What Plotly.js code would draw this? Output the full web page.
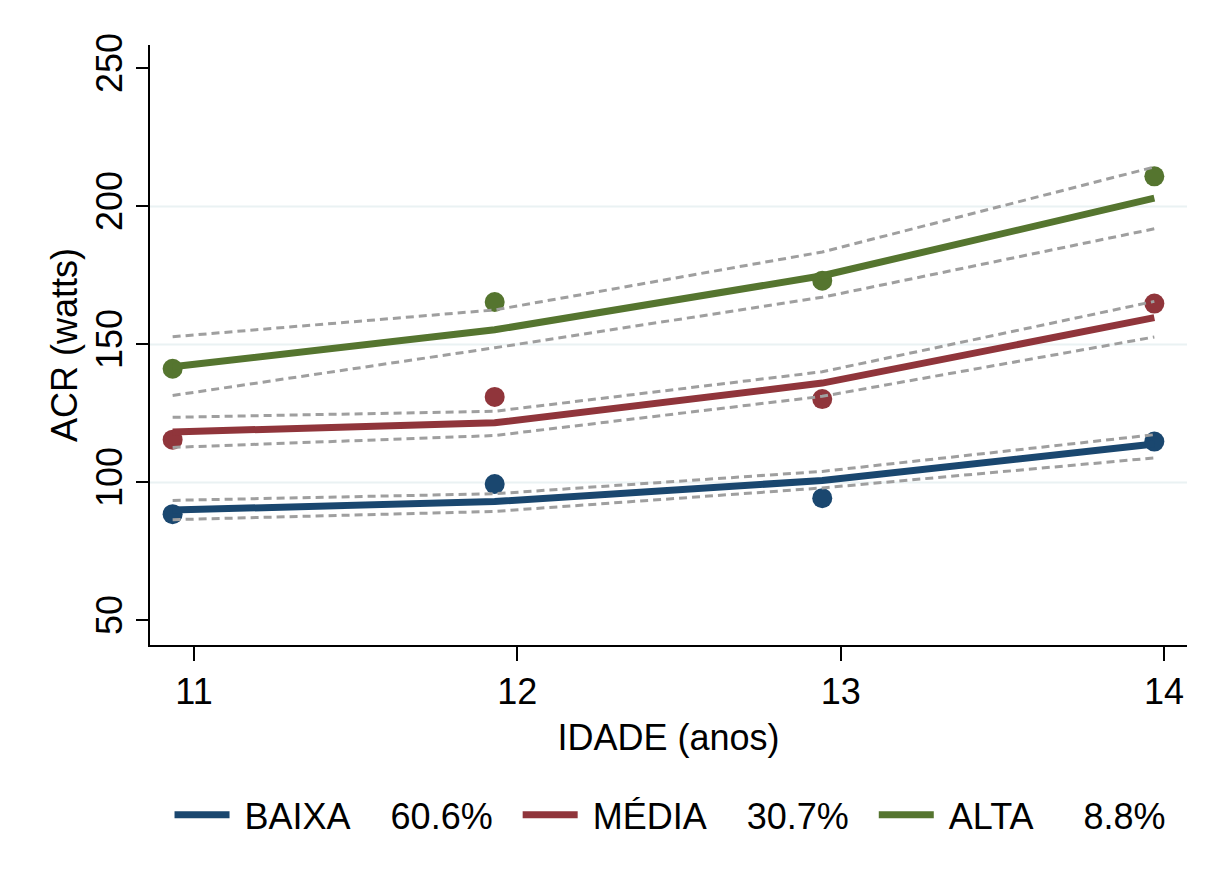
<!DOCTYPE html>
<html>
<head>
<meta charset="utf-8">
<script src="https://cdn.plot.ly/plotly-3.0.1.min.js"></script>
<style>html,body{margin:0;padding:0;background:#fff;}#chart{width:1208px;height:882px;}</style>
</head>
<body>
<div id="chart"></div>
<script>
// Mean age per wave (x)
const ages = [10.934, 11.93, 12.943, 13.970];

// Group labels (legend)
const groups = ["BAIXA", "MÉDIA", "ALTA"];
const shares = ["60.6%", "30.7%", "8.8%"];
const gaps = [4, 4, 5];

// Observed means
const baixaObs = [88.5, 99.4, 94.3, 114.8];
const mediaObs = [115.5, 131.0, 130.2, 164.8];
const altaObs  = [141.2, 165.4, 173.1, 210.9];

// Fitted trajectories
const baixaFit = [90.0, 93.1, 100.7, 113.9];
const mediaFit = [118.3, 121.6, 136.0, 159.7];
const altaFit  = [141.9, 155.3, 174.9, 203.0];

// Confidence bounds
const baixaLo = [86.5, 89.5, 98.0, 108.9];
const baixaHi = [93.5, 95.9, 104.0, 117.3];
const mediaLo = [112.7, 117.0, 131.2, 152.7];
const mediaHi = [123.6, 125.8, 140.1, 165.6];
const altaLo  = [131.5, 148.8, 167.1, 191.9];
const altaHi  = [152.8, 162.5, 183.5, 214.3];

// Axis ticks
const xTicks = [11, 12, 13, 14];
const yTicks = [50, 100, 150, 200, 250];
const gridVals = [100, 150, 200];

const colors = ["#1a476f", "#90353b", "#55752f"];
const obs = [baixaObs, mediaObs, altaObs];
const fit = [baixaFit, mediaFit, altaFit];
const lo = [baixaLo, mediaLo, altaLo];
const hi = [baixaHi, mediaHi, altaHi];

const FONT = "Liberation Sans, Arial, sans-serif";
const FS = 36;
const traces = [];

for (let i = 0; i < 3; i++) {
  traces.push({
    x: ages, y: obs[i], type: "scatter", mode: "markers",
    marker: {color: colors[i], size: 20, line: {width: 0}},
    showlegend: false, hoverinfo: "skip"
  });
}
for (let i = 0; i < 3; i++) {
  traces.push({
    x: ages, y: fit[i], type: "scatter", mode: "lines",
    line: {color: colors[i], width: 7},
    name: "\u00a0" + groups[i] + "\u00a0".repeat(gaps[i]) + shares[i] + "\u00a0\u00a0",
    showlegend: true
  });
}
for (let i = 0; i < 3; i++) {
  [lo[i], hi[i]].forEach(b => {
    traces.push({
      x: ages, y: b, type: "scatter", mode: "lines",
      line: {color: "#9f9f9f", width: 3, dash: "8px,5px"},
      showlegend: false, hoverinfo: "skip"
    });
  });
}

const shapes = gridVals.map(v => ({
  type: "line", xref: "paper", yref: "y", x0: 0, x1: 1, y0: v, y1: v,
  line: {color: "#eaf2f3", width: 2}, layer: "below"
}));

const layout = {
  width: 1208, height: 882,
  paper_bgcolor: "#ffffff", plot_bgcolor: "#ffffff",
  margin: {l: 150, r: 21, t: 45, b: 237},
  font: {family: FONT, size: FS, color: "#000"},
  showlegend: true,
  legend: {
    orientation: "h", x: 0.5116, xanchor: "center", y: -0.283, yanchor: "middle",
    font: {family: FONT, size: FS, color: "#000"},
    bgcolor: "rgba(0,0,0,0)", itemwidth: 55, traceorder: "normal"
  },
  shapes: shapes,
  xaxis: {
    range: [10.864, 14.071], tickvals: xTicks, ticktext: xTicks.map(String),
    showgrid: false, zeroline: false, showline: true, linecolor: "#000", linewidth: 2,
    ticks: "outside", ticklen: 14, tickwidth: 2, tickcolor: "#000",
    tickfont: {family: FONT, size: FS, color: "#000"},
    title: {text: "IDADE (anos)", font: {family: FONT, size: FS, color: "#000"}, standoff: 14}
  },
  yaxis: {
    range: [41.1, 258.5], tickvals: yTicks, ticktext: yTicks.map(String),
    showgrid: false, zeroline: false, showline: true, linecolor: "#000", linewidth: 2,
    ticks: "outside", ticklen: 12, tickwidth: 2, tickcolor: "#000", tickangle: -90,
    tickfont: {family: FONT, size: FS, color: "#000"},
    title: {text: "ACR (watts)", font: {family: FONT, size: FS, color: "#000"}, standoff: 0}
  }
};

Plotly.newPlot("chart", traces, layout, {displayModeBar: false, staticPlot: true});
</script>
</body>
</html>
